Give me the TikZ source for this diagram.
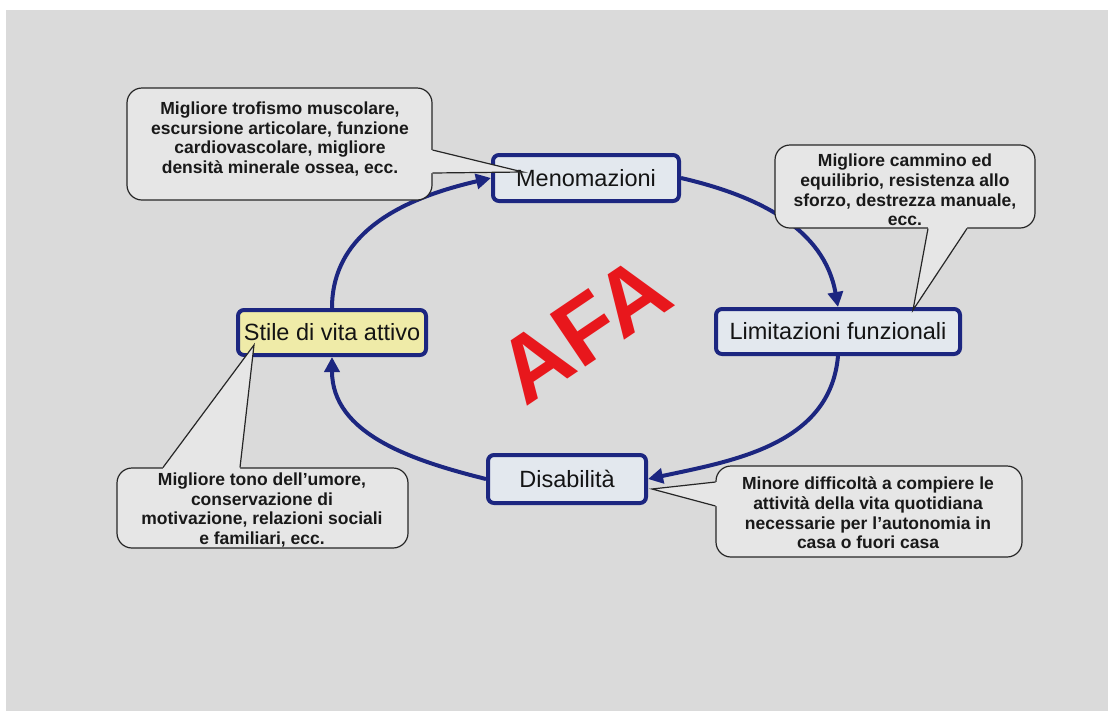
\documentclass[tikz,border=0pt]{standalone}
\usepackage{fontspec}
\setmainfont{Liberation Sans}
\usetikzlibrary{arrows.meta}
\definecolor{bg}{HTML}{DADADA}
\definecolor{navy}{RGB}{28,38,128}
\definecolor{boxfill}{HTML}{E3E8EE}
\definecolor{yfill}{HTML}{EFEBA8}
\definecolor{callfill}{HTML}{E6E6E6}
\definecolor{afared}{HTML}{E8171C}
\begin{document}
\begin{tikzpicture}[x=1pt,y=-1pt,
  mainbox/.style={draw=navy, line width=4pt, rounded corners=6pt, fill=boxfill, inner sep=0pt,
    font=\fontsize{23.5}{28}\selectfont, text=black!92},
  callbody/.style={draw=black!85, line width=1.2pt, rounded corners=15pt, fill=callfill, inner sep=0pt},
  calltext/.style={align=center, font=\fontsize{17.5}{19.7}\selectfont\bfseries, text=black!90, inner sep=0pt},
  cyclearrow/.style={draw=navy, line width=4pt, -{Triangle[length=15pt,width=15pt]}},
  pointerline/.style={draw=black!85, line width=1.2pt, line join=miter},
]
\useasboundingbox (0,0) rectangle (1111,713);
\fill[white] (0,0) rectangle (1111,713);
\fill[bg] (6,10) rectangle (1108,711);

% main boxes
\node[mainbox, minimum width=186pt, minimum height=46pt] (men) at (586,178) {Menomazioni};
\node[mainbox, minimum width=244pt, minimum height=45pt] (lim) at (838,331.5) {Limitazioni funzionali};
\node[mainbox, minimum width=158pt, minimum height=48pt] (dis) at (567,479) {Disabilità};
\node[mainbox, fill=yfill, minimum width=188pt, minimum height=45pt] (sti) at (332,332.5) {Stile di vita attivo};

% cycle arrows
\draw[cyclearrow] (men.east) to[out=-13, in=100] (lim.north);
\draw[cyclearrow] (lim.south) to[out=-95, in=12] (dis.east);
\draw[cyclearrow] (dis.west) to[out=166, in=-90] (sti.south);
\draw[cyclearrow] (sti.north) to[out=90, in=193] (men.west);

% AFA
\node[rotate=34, text=afared, font=\fontsize{92}{92}\selectfont\bfseries, inner sep=0pt] (afa) at (584,330) {AFA};

% callout 1
\node[callbody, minimum width=305pt, minimum height=112pt] (c1) at (279.5,144) {};
\coordinate (c1a) at (432.5,150);
\coordinate (c1b) at (432.5,173);
\coordinate (c1t) at (523,172);
\fill[callfill] (428,150) -- (c1a) -- (c1t) -- (c1b) -- (428,173) -- cycle;
\draw[pointerline] (c1a) -- (c1t) -- (c1b);
\node[calltext] (t1) at (280,139) {Migliore trofismo muscolare,\\escursione articolare, funzione\\cardiovascolare, migliore\\densità minerale ossea, ecc.};

% callout 2
\node[callbody, minimum width=260pt, minimum height=83pt] (c2) at (905,186.5) {};
\coordinate (c2a) at (928,228.5);
\coordinate (c2b) at (967,228.5);
\coordinate (c2t) at (913,310);
\fill[callfill] (928,224) -- (c2a) -- (c2t) -- (c2b) -- (967,224) -- cycle;
\draw[pointerline] (c2a) -- (c2t) -- (c2b);
\node[calltext] (t2) at (905,190) {Migliore cammino ed\\equilibrio, resistenza allo\\sforzo, destrezza manuale,\\ecc.};

% callout 3
\node[callbody, minimum width=291pt, minimum height=80pt] (c3) at (262.5,508) {};
\coordinate (c3a) at (163,467.5);
\coordinate (c3b) at (240,467.5);
\coordinate (c3t) at (254,345);
\fill[callfill] (163,472) -- (c3a) -- (c3t) -- (c3b) -- (240,472) -- cycle;
\draw[pointerline] (c3a) -- (c3t) -- (c3b);
\node[calltext] (t3) at (262,510) {Migliore tono dell’umore,\\conservazione di\\motivazione, relazioni sociali\\e familiari, ecc.};

% callout 4
\node[callbody, minimum width=306pt, minimum height=91pt] (c4) at (869,511.5) {};
\coordinate (c4a) at (715.5,482);
\coordinate (c4b) at (715.5,506);
\coordinate (c4t) at (652,489);
\fill[callfill] (720,482) -- (c4a) -- (c4t) -- (c4b) -- (720,506) -- cycle;
\draw[pointerline] (c4a) -- (c4t) -- (c4b);
\node[calltext] (t4) at (868,513) {Minore difficoltà a compiere le\\attività della vita quotidiana\\necessarie per l’autonomia in\\casa o fuori casa};
\end{tikzpicture}
\end{document}
